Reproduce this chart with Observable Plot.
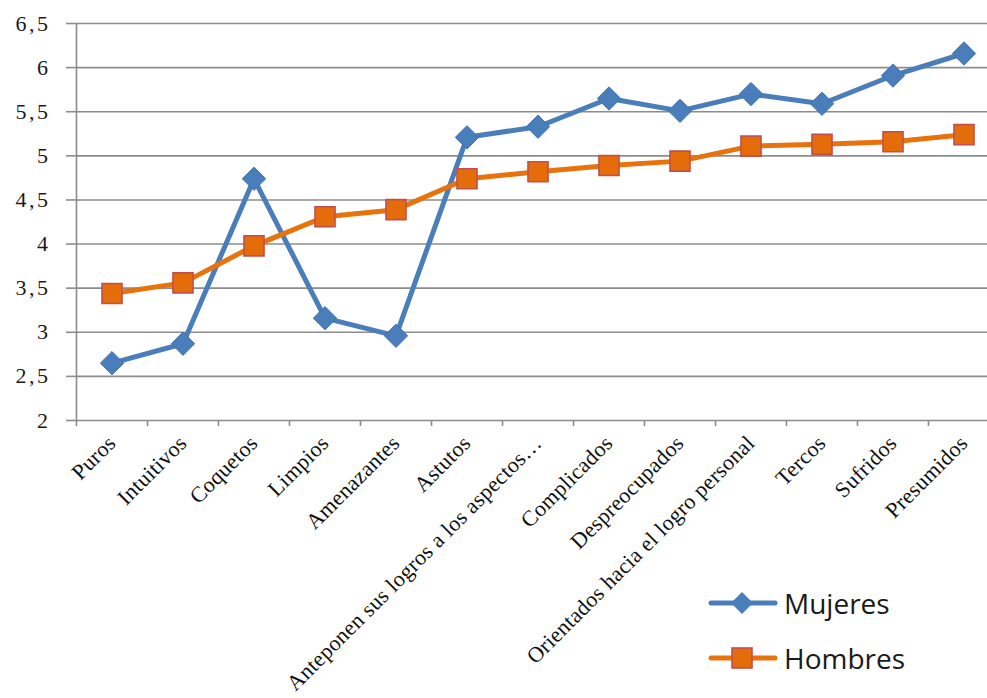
<!DOCTYPE html>
<html><head><meta charset="utf-8">
<script src="https://cdn.jsdelivr.net/npm/d3@7"></script>
<script src="https://cdn.jsdelivr.net/npm/@observablehq/plot@0.6"></script>
<style>
html,body{margin:0;background:#fff;overflow:hidden;}
#wrap{position:relative;width:987px;height:698px;overflow:hidden;}
#chart svg{display:block;}
#legend{position:absolute;left:708px;top:575px;font-family:"Open Sans",sans-serif;font-size:28px;color:#1a1a1a;}
.row{display:flex;align-items:center;height:55px;}
.row svg{margin-right:6px;}
g[aria-label="y-axis tick label"] text{letter-spacing:2.5px;}
g[aria-label="x-axis tick label"] text{letter-spacing:0.3px;}
</style></head><body>
<div id="wrap"><div id="chart"></div><div id="legend"></div></div>
<script>
const categories = ["Puros","Intuitivos","Coquetos","Limpios","Amenazantes","Astutos","Anteponen sus logros a los aspectos…","Complicados","Despreocupados","Orientados hacia el logro personal","Tercos","Sufridos","Presumidos"];
const mujeres = [2.65,2.87,4.74,3.16,2.96,5.21,5.33,5.65,5.51,5.70,5.59,5.91,6.16];
const hombres = [3.44,3.56,3.98,4.31,4.39,4.74,4.82,4.89,4.94,5.11,5.13,5.16,5.24];
const yTicks = [2,2.5,3,3.5,4,4.5,5,5.5,6,6.5];
const seriesNames = ["Mujeres","Hombres"];

const colors = {Mujeres:"#4A7EBB", Hombres:"#E8720C"};
const data = categories.flatMap((c,i)=>[
  {i, cat:c, serie:"Mujeres", v:mujeres[i]},
  {i, cat:c, serie:"Hombres", v:hombres[i]}
]);
const fmt = d => String(d).replace(".", ",");
const n = categories.length;
const boundaries = d3.range(-0.5, n, 1);

const chart = Plot.plot({
  width: 987, height: 698,
  marginLeft: 76, marginRight: 0, marginTop: 23, marginBottom: 278,
  style: {fontFamily: "'Liberation Serif', serif", background: "transparent"},
  x: {domain: [-0.5, n - 0.5], range: [76, 999], label: null},
  y: {domain: [2, 6.5], label: null},
  marks: [
    Plot.ruleY(yTicks, {stroke: "#8c8c8c", strokeWidth: 1.6}),
    Plot.ruleX([-0.5], {stroke: "#8c8c8c", strokeWidth: 1.6}),
    Plot.axisY({ticks: yTicks, tickSize: 10, tickPadding: 16, tickFormat: fmt, fontSize: 22, stroke: "#8c8c8c", strokeWidth: 1.6, fill: "#1a1a1a", label: null}),
    Plot.axisX({ticks: boundaries, tickSize: 6, tickFormat: () => "", stroke: "#8c8c8c", strokeWidth: 1.6, label: null}),
    Plot.axisX({ticks: d3.range(n), tickSize: 0, tickPadding: 19, tickRotate: -45, tickFormat: i => categories[i], fontSize: 22, fill: "#111", label: null}),
    Plot.line(data, {x: "i", y: "v", z: "serie", stroke: d => colors[d.serie], strokeWidth: 5, strokeLinejoin: "round"}),
    Plot.dot(data.filter(d => d.serie === "Mujeres"), {x: "i", y: "v", symbol: "diamond2", r: 10.5, fill: colors.Mujeres, stroke: "#3f72b0", strokeWidth: 1}),
    Plot.dot(data.filter(d => d.serie === "Hombres"), {x: "i", y: "v", symbol: "square", r: 11.3, fill: "#E46C0A", stroke: "#C0504D", strokeWidth: 1.6})
  ]
});
document.getElementById("chart").appendChild(chart);

// legend
const legend = document.getElementById("legend");
seriesNames.forEach(name => {
  const row = document.createElement("div");
  row.className = "row";
  const marker = name === "Mujeres"
    ? `<path d="M34,1 L45,12 L34,23 L23,12 Z" fill="${colors.Mujeres}"/>`
    : `<rect x="24" y="2" width="20" height="20" fill="#E46C0A" stroke="#C0504D" stroke-width="1.6"/>`;
  row.innerHTML = `<svg width="70" height="24"><line x1="3" y1="12" x2="67" y2="12" stroke="${colors[name]}" stroke-width="5" stroke-linecap="round"/>${marker}</svg><span>${name}</span>`;
  legend.appendChild(row);
});
</script>
</body></html>
